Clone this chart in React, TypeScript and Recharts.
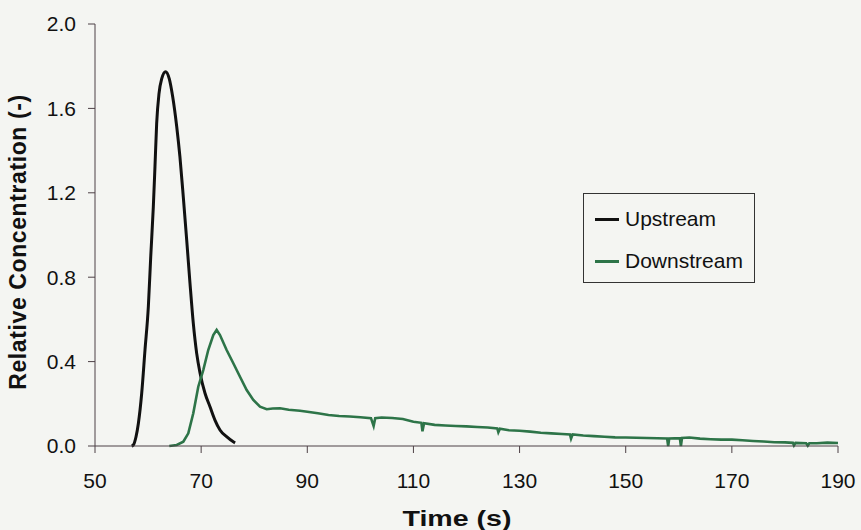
import React from 'react';
import { LineChart, Line, XAxis, YAxis, Legend } from 'recharts';

// time (s) / relative concentration
const upTime = [
  56.9, 57.22, 57.73, 58.17, 58.8, 59.42, 60.05, 60.5, 60.99, 61.3, 61.62, 62.06, 62.56, 63.3, 64.0, 64.64, 65.4, 66.0,
  66.64, 67.28, 67.9, 68.52, 69.16, 69.8, 70.73, 71.67, 72.6, 73.55, 74.8, 76.06, 76.4,
];
const upConc = [
  0, 0.005, 0.044, 0.107, 0.25, 0.455, 0.66, 0.897, 1.134, 1.324, 1.529, 1.67, 1.74, 1.774, 1.74, 1.655, 1.513, 1.371,
  1.18, 0.976, 0.771, 0.582, 0.439, 0.345, 0.25, 0.186, 0.123, 0.076, 0.044, 0.02, 0.015,
];

const downTime = [
  64, 65.4, 66.64, 67.58, 68.52, 69.46, 70.4, 71.34, 72.29, 72.92, 73.55, 74.8, 76.06, 77.32, 78.58, 79.83, 81.09, 82.35, 83.5, 84.86,
  86.5, 88.63, 90, 92, 94, 96, 98, 100, 102, 102.5, 102.8, 104, 106, 108, 110, 111.5,
  111.7, 112, 114, 116, 118, 120, 122, 124, 125.8, 126, 126.3, 128, 130, 132, 134, 136, 138, 139.5, 139.7, 140,
  142, 144, 146, 148, 150, 152, 154, 156, 157.8, 158, 158.2, 160.2, 160.4, 160.6, 162, 164, 166, 168, 170, 172,
  174, 176, 178, 180, 181.5, 181.7, 182, 184, 184.3, 184.6, 186, 188, 190,
];
const downConc = [
  0, 0.005, 0.02, 0.06, 0.155, 0.281, 0.36, 0.455, 0.526, 0.55, 0.526, 0.455, 0.392, 0.328, 0.265, 0.218, 0.186, 0.174, 0.178, 0.179,
  0.172, 0.167, 0.162, 0.155, 0.147, 0.142, 0.14, 0.136, 0.132, 0.095, 0.132, 0.135, 0.133, 0.128, 0.115, 0.11,
  0.07, 0.108, 0.1, 0.097, 0.095, 0.093, 0.09, 0.088, 0.083, 0.065, 0.082, 0.075, 0.072, 0.068, 0.063, 0.06, 0.057, 0.055, 0.035, 0.055,
  0.05, 0.047, 0.044, 0.041, 0.04, 0.039, 0.038, 0.037, 0.036, 0, 0.036, 0.037, 0, 0.038, 0.04, 0.035, 0.032, 0.03, 0.03, 0.027,
  0.024, 0.021, 0.018, 0.017, 0.015, 0.003, 0.015, 0.013, 0.002, 0.013, 0.013, 0.016, 0.014,
];

const xTicks = [50, 70, 90, 110, 130, 150, 170, 190];
const yTicks = [0, 0.4, 0.8, 1.2, 1.6, 2.0];
const seriesNames = ['Upstream', 'Downstream'];

const upstream = upTime.map((t, i) => ({ t, c: upConc[i] }));
const downstream = downTime.map((t, i) => ({ t, c: downConc[i] }));

const FONT = '"Liberation Sans", Arial, sans-serif';
const AXIS = '#4d4046';
const COLORS = ['#111111', '#2d7448'];

function YTitle() {
  return (
    <text x={18} y={242} transform="rotate(-90 18 242)" textAnchor="middle" dominantBaseline="central"
      fontFamily={FONT} fontWeight="bold" fontSize={23} letterSpacing={0.6} fill="#111">
      Relative Concentration (-)
    </text>
  );
}

function XTitle() {
  // the scanned title is stretched sideways
  return (
    <text x={0} y={0} transform="translate(457 526) scale(1.3 1)" textAnchor="middle"
      fontFamily={FONT} fontWeight="bold" fontSize={22} fill="#111">
      Time (s)
    </text>
  );
}

function LegendBox() {
  return (
    <div style={{ width: 172, height: 90, border: '1px solid #333', boxSizing: 'border-box', fontFamily: FONT, fontSize: 21, color: '#111', paddingTop: 13 }}>
      {seriesNames.map((name, i) => (
        <div key={name} style={{ display: 'flex', alignItems: 'center', height: 24, marginBottom: 18, paddingLeft: 11 }}>
          <div style={{ width: 24, height: 3, background: COLORS[i], marginRight: 6 }} />
          <span>{name}</span>
        </div>
      ))}
    </div>
  );
}

export default function App() {
  return (
    <div style={{ position: 'fixed', left: 0, top: 0, width: 861, height: 530, background: '#f4f5f2' }}>
      <LineChart width={861} height={530} margin={{ top: 24, right: 23, bottom: 0, left: 0 }}>
        <XAxis
          type="number"
          dataKey="t"
          domain={[50, 190]}
          ticks={xTicks}
          allowDataOverflow
          height={84}
          stroke={AXIS}
          tickSize={7}
          tickMargin={20}
          tick={{ fill: '#111', fontFamily: FONT, fontSize: 21 }}
          label={<XTitle />}
        />
        <YAxis
          type="number"
          domain={[0, 2]}
          ticks={yTicks}
          width={95}
          stroke={AXIS}
          tickSize={7}
          tickMargin={12}
          tickFormatter={(v: number) => v.toFixed(1)}
          tick={{ fill: '#111', fontFamily: FONT, fontSize: 21 }}
          label={<YTitle />}
        />
        <Legend layout="vertical" align="center" verticalAlign="middle"
          wrapperStyle={{ left: 583, top: 193, width: 172, height: 90 }}
          content={() => <LegendBox />} />
        <Line data={upstream} dataKey="c" name={seriesNames[0]} stroke={COLORS[0]} strokeWidth={3}
          dot={false} type="monotone" isAnimationActive={false} />
        <Line data={downstream} dataKey="c" name={seriesNames[1]} stroke={COLORS[1]} strokeWidth={2.6}
          dot={false} type="linear" isAnimationActive={false} />
      </LineChart>
    </div>
  );
}
